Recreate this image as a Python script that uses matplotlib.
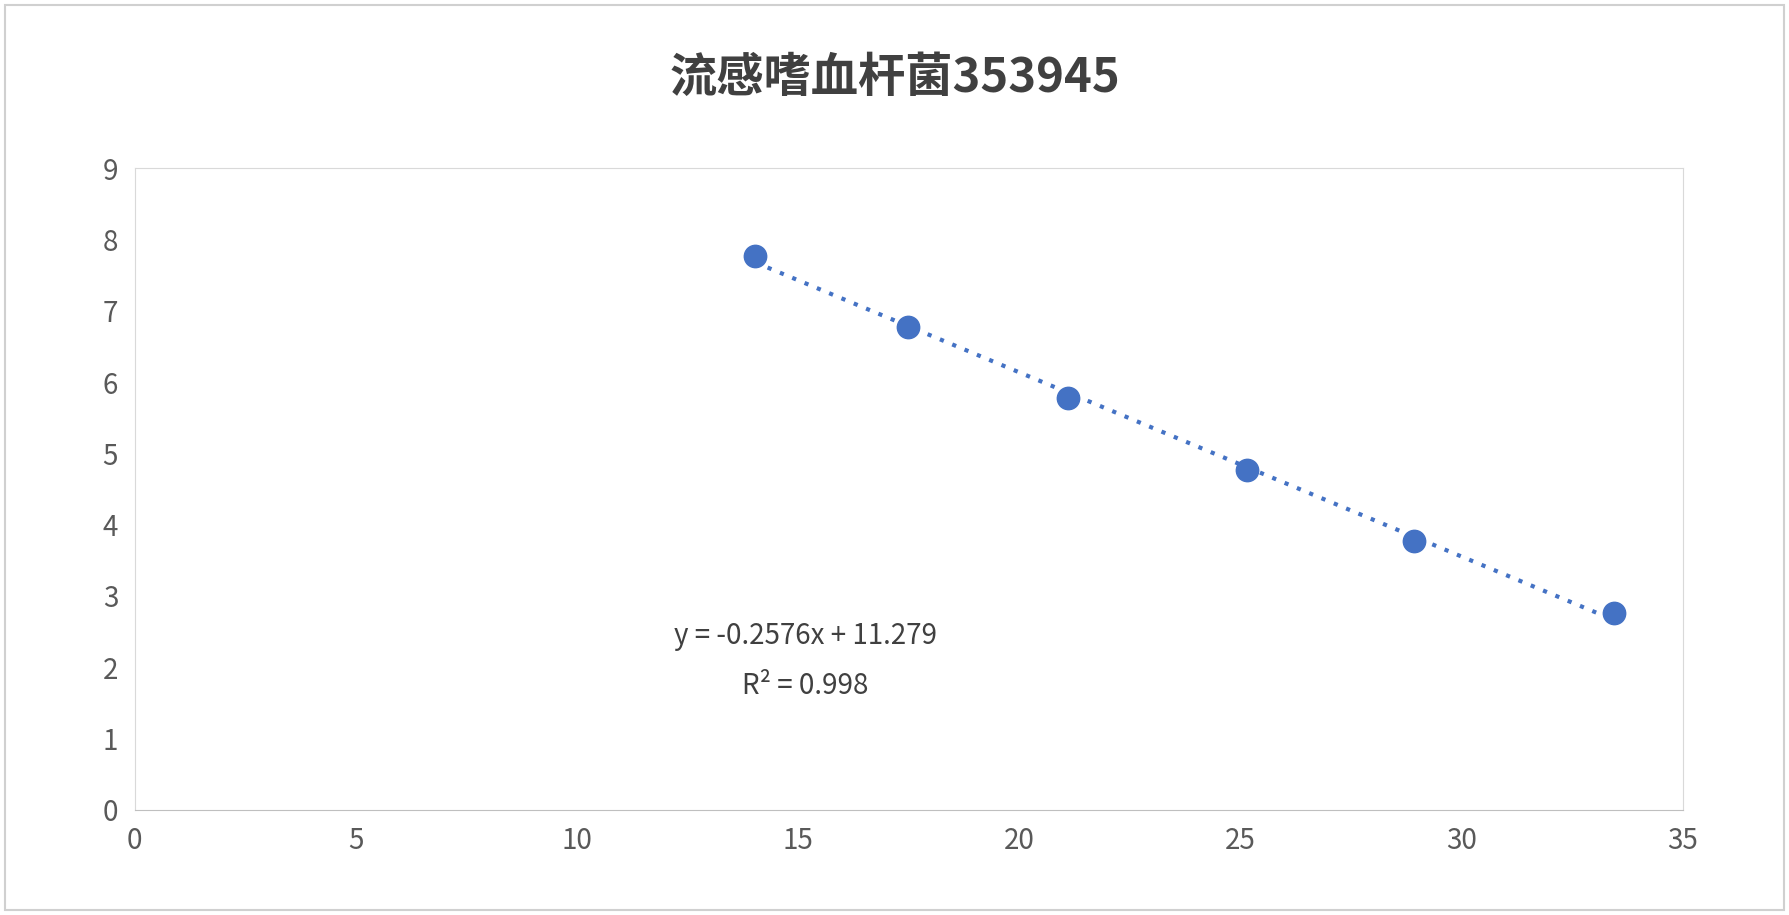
import matplotlib
matplotlib.use('Agg')
import matplotlib.pyplot as plt
import numpy as np

plt.rcParams['font.family'] = ['Noto Sans CJK SC', 'DejaVu Sans']

# 读图得到的数据
ct_values = [14.03, 17.49, 21.10, 25.15, 28.91, 33.45]
log_conc = [7.77, 6.77, 5.78, 4.77, 3.77, 2.76]
title = '流感嗜血杆菌353945'
eq_text = 'y = -0.2576x + 11.279'
r2_text = 'R² = 0.998'

fig = plt.figure(figsize=(17.89, 9.15), dpi=100)
fig.patches.append(plt.Rectangle((0.003, 0.005), 0.994, 0.99, transform=fig.transFigure,
                                 fill=False, edgecolor='#d0d0d0', linewidth=1.5))
ax = fig.add_axes([0.0753, 0.115, 0.8654, 0.701])

x = np.array(ct_values)
y = np.array(log_conc)
k, b = np.polyfit(x, y, 1)
xx = np.array([x.min(), x.max()])
ax.plot(xx, k * xx + b, linestyle=(0, (1, 2.2)), color='#4472C4', linewidth=3)
ax.scatter(x, y, s=260, color='#4472C4', zorder=3, edgecolors='#4472C4')

ax.set_xlim(0, 35)
ax.set_ylim(0, 9)
ax.set_xticks(range(0, 36, 5))
ax.set_yticks(range(0, 10))
ax.tick_params(length=0, labelsize=20, colors='#595959', pad=12)
for s in ax.spines.values():
    s.set_color('#d9d9d9')
ax.spines['bottom'].set_color('#bfbfbf')

ax.text(0.433, 0.258, eq_text, transform=ax.transAxes, ha='center', fontsize=20, color='#404040')
ax.text(0.433, 0.18, r2_text, transform=ax.transAxes, ha='center', fontsize=20, color='#404040')

fig.text(0.5, 0.915, title, ha='center', va='center', fontsize=34, fontweight='bold', color='#404040')

fig.savefig('out.png', dpi=100)
